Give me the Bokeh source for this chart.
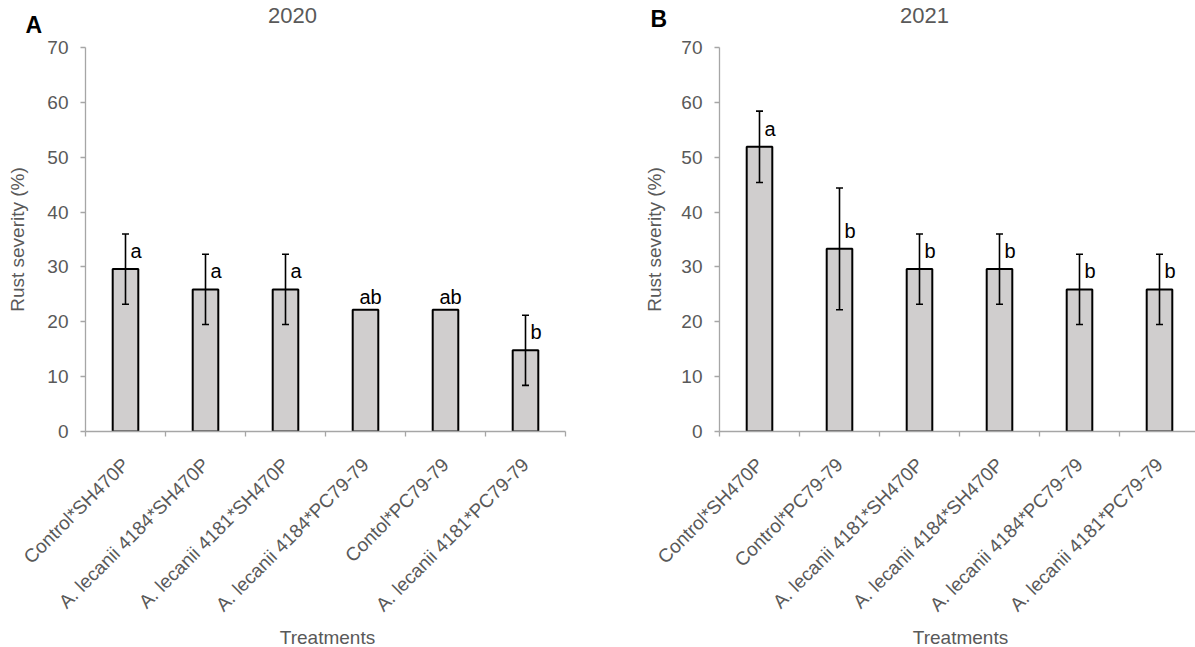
import math
from bokeh.plotting import figure
from bokeh.models import (ColumnDataSource, Range1d, FixedTicker, Whisker, TeeHead, Label)
from bokeh.layouts import row
from bokeh.embed import file_html
from bokeh.resources import INLINE
from bokeh.core.properties import value

# ---------------- data ----------------
treatments_2020 = ["Control*SH470P", "A. lecanii 4184*SH470P", "A. lecanii 4181*SH470P",
                   "A. lecanii 4184*PC79-79", "Contol*PC79-79", "A. lecanii 4181*PC79-79"]
severity_2020 = [29.6, 25.9, 25.9, 22.2, 22.2, 14.8]
error_2020 = [6.4, 6.4, 6.4, 0.0, 0.0, 6.4]
letters_2020 = ["a", "a", "a", "ab", "ab", "b"]

treatments_2021 = ["Control*SH470P", "Control*PC79-79", "A. lecanii 4181*SH470P",
                   "A. lecanii 4184*SH470P", "A. lecanii 4184*PC79-79", "A. lecanii 4181*PC79-79"]
severity_2021 = [51.9, 33.3, 29.6, 29.6, 25.9, 25.9]
error_2021 = [6.5, 11.1, 6.4, 6.4, 6.4, 6.4]
letters_2021 = ["a", "b", "b", "b", "b", "b"]

y_ticks = [0, 10, 20, 30, 40, 50, 60, 70]
y_axis_title = "Rust severity (%)"
x_axis_title = "Treatments"

FONT = "Liberation Sans"
GREY_TXT = "#595959"
AXIS_COL = "#a6a6a6"
BAR_FILL = "#d0cece"


def make_panel(year, panel_letter, cats, vals, errs, lets, frame_w, bl, br, x_end,
               ylab_standoff, title_x, letter_x, letter_y, xlab_x):
    n = len(cats)
    xs = [i + 0.5 for i in range(n)]
    p = figure(frame_width=frame_w, frame_height=384,
               x_range=Range1d(0, x_end), y_range=Range1d(0, 70),
               output_backend="svg", toolbar_location=None,
               min_border_left=bl, min_border_right=br, min_border_top=47, min_border_bottom=216)
    p.outline_line_color = None
    p.grid.visible = False
    p.background_fill_color = "white"
    p.border_fill_color = "white"

    src = ColumnDataSource(dict(x=xs, top=vals))
    p.vbar(x="x", top="top", bottom=0, width=0.32, source=src,
           fill_color=BAR_FILL, line_color="black", line_width=2)

    ex = [x for x, e in zip(xs, errs) if e > 0]
    eu = [v + e for v, e in zip(vals, errs) if e > 0]
    el = [v - e for v, e in zip(vals, errs) if e > 0]
    esrc = ColumnDataSource(dict(x=ex, upper=eu, lower=el))
    w = Whisker(source=esrc, base="x", upper="upper", lower="lower",
                line_color="black", line_width=1.6, level="overlay",
                upper_head=TeeHead(size=7, line_color="black", line_width=1.6),
                lower_head=TeeHead(size=7, line_color="black", line_width=1.6))
    p.add_layout(w)

    # significance letters
    l1 = ColumnDataSource(dict(x=[x for x, e in zip(xs, errs) if e > 0],
                               y=[v for v, e in zip(vals, errs) if e > 0],
                               t=[l for l, e in zip(lets, errs) if e > 0]))
    p.text(x="x", y="y", text="t", source=l1, text_align="left", text_baseline="alphabetic",
           x_offset=5, y_offset=-18, text_font=value(FONT), text_font_size="20px",
           text_color="black")
    l2 = ColumnDataSource(dict(x=[x for x, e in zip(xs, errs) if e == 0],
                               y=[v for v, e in zip(vals, errs) if e == 0],
                               t=[l for l, e in zip(lets, errs) if e == 0]))
    p.text(x="x", y="y", text="t", source=l2, text_align="center", text_baseline="alphabetic",
           x_offset=5, y_offset=-13, text_font=value(FONT), text_font_size="20px",
           text_color="black")

    # axes
    xa = p.xaxis[0]
    xa.ticker = FixedTicker(ticks=xs, minor_ticks=list(range(n + 1)))
    xa.major_label_overrides = {x: c for x, c in zip(xs, cats)}
    xa.major_label_orientation = math.pi / 4
    xa.major_tick_line_color = None
    xa.major_tick_out = 0
    xa.major_tick_in = 0
    xa.minor_tick_line_color = AXIS_COL
    xa.minor_tick_line_width = 1.3
    xa.minor_tick_out = 5
    xa.minor_tick_in = 0
    xa.axis_line_color = AXIS_COL
    xa.axis_line_width = 1.3
    xa.major_label_standoff = 25
    xa.major_label_text_font = FONT
    xa.major_label_text_font_size = "19px"
    xa.major_label_text_color = GREY_TXT

    ya = p.yaxis[0]
    ya.ticker = FixedTicker(ticks=y_ticks, minor_ticks=[])
    ya.major_tick_line_color = AXIS_COL
    ya.major_tick_line_width = 1.3
    ya.major_tick_out = 5
    ya.major_tick_in = 0
    ya.minor_tick_line_color = None
    ya.axis_line_color = AXIS_COL
    ya.axis_line_width = 1.3
    ya.major_label_standoff = 12
    ya.major_label_text_font = FONT
    ya.major_label_text_font_size = "19px"
    ya.major_label_text_color = GREY_TXT
    ya.axis_label = y_axis_title
    ya.axis_label_text_font = FONT
    ya.axis_label_text_font_size = "19px"
    ya.axis_label_text_font_style = "normal"
    ya.axis_label_text_color = GREY_TXT
    ya.axis_label_standoff = ylab_standoff

    # x axis title (below panel), chart title and panel letter (above panel)
    p.add_layout(Label(x=xlab_x, y=20, x_units="screen", y_units="screen", text=x_axis_title,
                       text_font=FONT, text_font_size="19px", text_color=GREY_TXT,
                       text_align="center", text_baseline="top"), "below")
    p.add_layout(Label(x=title_x, y=32, x_units="screen", y_units="screen", text=year,
                       text_font=FONT, text_font_size="22px", text_color=GREY_TXT,
                       text_align="center", text_baseline="alphabetic"), "above")
    p.add_layout(Label(x=letter_x, y=letter_y, x_units="screen", y_units="screen",
                       text=panel_letter, text_font=FONT, text_font_size="23px",
                       text_font_style="bold", text_color="black",
                       text_align="left", text_baseline="alphabetic"), "above")
    return p


pA = make_panel("2020", "A", treatments_2020, severity_2020, error_2020, letters_2020,
                frame_w=480, bl=85, br=43, x_end=6, ylab_standoff=16,
                title_x=207, letter_x=-60, letter_y=8, xlab_x=242)
pB = make_panel("2021", "B", treatments_2021, severity_2021, error_2021, letters_2021,
                frame_w=476, bl=111, br=0, x_end=5.95, ylab_standoff=13,
                title_x=205, letter_x=-69, letter_y=14, xlab_x=241)

layout = row(pA, pB)
open("out.html", "w").write(file_html(layout, INLINE))
